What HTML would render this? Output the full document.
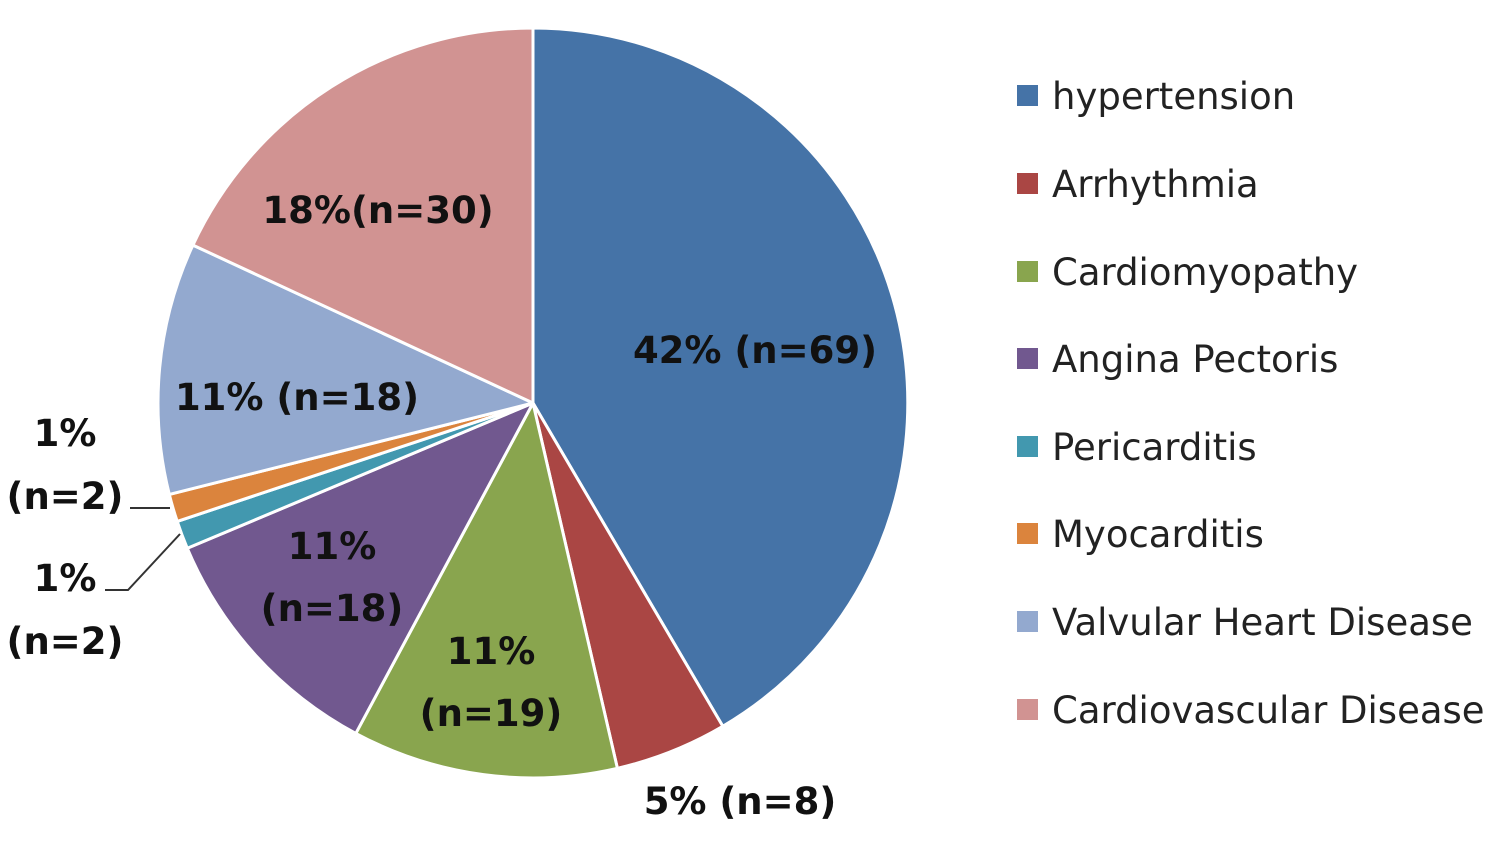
<!DOCTYPE html>
<html><head><meta charset="utf-8"><style>
html,body{margin:0;padding:0;background:#fff;width:1500px;height:845px;overflow:hidden}
svg text{font-family:"DejaVu Sans","Liberation Sans",sans-serif}
</style></head><body>
<svg width="1500" height="845" viewBox="0 0 1500 845" xmlns="http://www.w3.org/2000/svg">
<g stroke="#fff" stroke-width="3" stroke-linejoin="round">
<path d="M533,403 L533,28 A375,375 0 0 1 722.8,726.3 Z" fill="#4573a7"/>
<path d="M533,403 L722.8,726.3 A375,375 0 0 1 617.4,768.3 Z" fill="#aa4644"/>
<path d="M533,403 L617.4,768.3 A375,375 0 0 1 355.8,733.4 Z" fill="#89a54e"/>
<path d="M533,403 L355.8,733.4 A375,375 0 0 1 187.3,548.3 Z" fill="#71588f"/>
<path d="M533,403 L187.3,548.3 A375,375 0 0 1 177.2,521.4 Z" fill="#4298af"/>
<path d="M533,403 L177.2,521.4 A375,375 0 0 1 169.3,494.4 Z" fill="#db843d"/>
<path d="M533,403 L169.3,494.4 A375,375 0 0 1 192.9,245.1 Z" fill="#93a9cf"/>
<path d="M533,403 L192.9,245.1 A375,375 0 0 1 533,28 Z" fill="#d19392"/>
</g>
<g stroke="#333" stroke-width="2" fill="none">
<path d="M130,508 L170,508"/>
<path d="M105,590 L128,590 L180,534"/>
</g>
<g font-weight="bold" font-size="37" fill="#111" text-anchor="middle">
<text x="755" y="363">42% (n=69)</text>
<text x="378" y="223">18%(n=30)</text>
<text x="297" y="410">11% (n=18)</text>
<text x="332" y="559">11%</text>
<text x="332" y="621">(n=18)</text>
<text x="491" y="664">11%</text>
<text x="491" y="726">(n=19)</text>
<text x="740" y="814">5% (n=8)</text>
<text x="65" y="446">1%</text>
<text x="65" y="509">(n=2)</text>
<text x="65" y="591">1%</text>
<text x="65" y="654">(n=2)</text>
</g>
<g font-size="37" fill="#222">
<rect x="1017" y="85" width="21" height="21" fill="#4573a7"/><text x="1052" y="109">hypertension</text>
<rect x="1017" y="173" width="21" height="21" fill="#aa4644"/><text x="1052" y="197">Arrhythmia</text>
<rect x="1017" y="261" width="21" height="21" fill="#89a54e"/><text x="1052" y="285">Cardiomyopathy</text>
<rect x="1017" y="348" width="21" height="21" fill="#71588f"/><text x="1052" y="372">Angina Pectoris</text>
<rect x="1017" y="436" width="21" height="21" fill="#4298af"/><text x="1052" y="460">Pericarditis</text>
<rect x="1017" y="523" width="21" height="21" fill="#db843d"/><text x="1052" y="547">Myocarditis</text>
<rect x="1017" y="611" width="21" height="21" fill="#93a9cf"/><text x="1052" y="635">Valvular Heart Disease</text>
<rect x="1017" y="699" width="21" height="21" fill="#d19392"/><text x="1052" y="723">Cardiovascular Disease</text>
</g>
</svg>
</body></html>
